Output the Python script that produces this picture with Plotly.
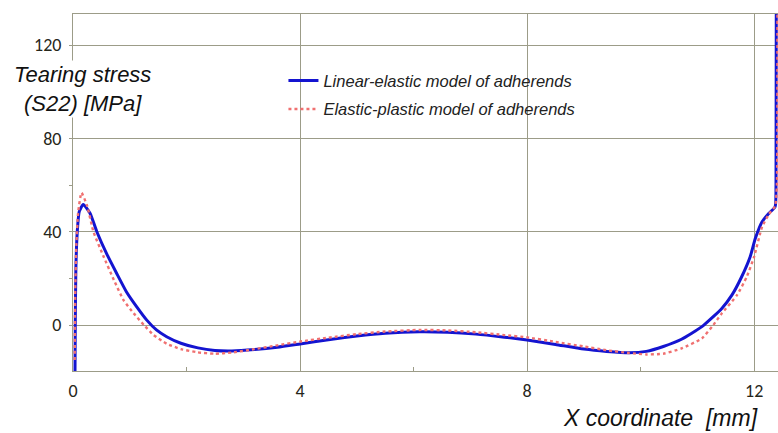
import plotly.graph_objects as go

# Linear-elastic model (blue)
x_lin = [0.035, 0.04, 0.05, 0.077, 0.11, 0.18, 0.30, 0.42, 0.59, 0.77, 0.94, 1.12, 1.30, 1.47, 1.65, 1.9, 2.2, 2.5, 2.8, 3.2, 3.6, 4.0, 4.5, 5.0, 5.5, 6.1, 6.6, 7.1, 7.6, 8.0, 8.5, 9.0, 9.4, 9.8, 10.1, 10.4, 10.72, 11.08, 11.43, 11.61, 11.78, 11.93, 12.02, 12.14, 12.26, 12.37, 12.385, 12.39]
y_lin = [-22, 0, 23.6, 40.7, 48.6, 51.7, 47.9, 40, 30.7, 22.1, 14.3, 7.9, 2.1, -2.1, -5.0, -7.8, -9.8, -10.9, -11.1, -10.5, -9.5, -8.1, -6.3, -4.7, -3.5, -2.9, -3.1, -3.9, -5.2, -6.4, -8.3, -10.3, -11.3, -11.9, -11.3, -9.2, -6.1, -0.7, 7.1, 12.9, 20.7, 29.3, 37.1, 44.3, 47.9, 50.7, 60, 140]

# Elastic-plastic model (red dotted)
x_pl = [0.03, 0.04, 0.06, 0.09, 0.15, 0.25, 0.36, 0.54, 0.72, 0.89, 1.07, 1.25, 1.42, 1.65, 1.9, 2.2, 2.5, 2.8, 3.2, 3.6, 4.0, 4.5, 5.0, 5.5, 6.1, 6.6, 7.1, 7.6, 8.0, 8.5, 9.0, 9.4, 9.8, 10.1, 10.4, 10.72, 11.08, 11.28, 11.43, 11.7, 11.87, 12.0, 12.14, 12.26, 12.37, 12.40, 12.41]
y_pl = [-15, 15, 35, 48, 56.7, 51, 40, 29.3, 19.3, 10.7, 5.0, 0, -4.3, -8.0, -10.3, -11.7, -12.3, -11.8, -10.3, -8.7, -7.1, -5.4, -3.9, -2.8, -2.1, -2.3, -3.1, -4.3, -5.3, -7.2, -9.2, -10.8, -12.0, -12.6, -12.3, -10.0, -5.7, 0, 5.0, 12.9, 20.7, 29.3, 42.1, 47.5, 51, 60, 140]

x_ticks = [0, 4, 8, 12]
y_ticks = [0, 40, 80, 120]

fig = go.Figure()
fig.add_trace(go.Scatter(
    x=x_lin, y=y_lin, mode="lines", name="<i>Linear-elastic model of adherends</i>",
    line=dict(color="#1414d0", width=3, shape="spline", smoothing=0.5),
    legendgroup="a",
))
fig.add_trace(go.Scatter(
    x=x_pl, y=y_pl, mode="lines", name="<i>Elastic-plastic model of adherends</i>",
    line=dict(color="#f07070", width=2.4, dash="dot", shape="spline", smoothing=0.5),
    legendgroup="b",
))

grid_col = "#9c9c88"
tick_font = dict(family="Carlito, Lato, sans-serif", size=18, color="#26261a")
fig.update_layout(
    width=778, height=433,
    margin=dict(l=73, r=0, t=14, b=62),
    paper_bgcolor="white", plot_bgcolor="white",
    showlegend=True,
    legend=dict(
        x=0.2985, y=0.862, xanchor="left", yanchor="top",
        font=dict(family="Liberation Sans, Arial, sans-serif", size=16.5, color="#222"),
        bgcolor="rgba(0,0,0,0)", traceorder="grouped", tracegroupgap=4,
    ),
    xaxis=dict(
        range=[0, 12.42], tickvals=x_ticks, ticktext=[str(v) for v in x_ticks],
        showgrid=True, gridcolor=grid_col, gridwidth=1,
        showline=True, linecolor=grid_col, linewidth=1, mirror=True,
        zeroline=False, ticks="", ticklabelstandoff=3,
        tickfont=tick_font,
        minor=dict(tickvals=[2, 6, 10], ticks="inside", ticklen=4, tickcolor=grid_col, showgrid=False),
    ),
    yaxis=dict(
        range=[-19.7, 133.3], tickvals=y_ticks, ticktext=[str(v) for v in y_ticks],
        showgrid=True, gridcolor=grid_col, gridwidth=1,
        showline=True, linecolor=grid_col, linewidth=1, mirror=True,
        zeroline=False, ticks="outside", ticklen=3, tickcolor=grid_col,
        ticklabelstandoff=4,
        tickfont=tick_font,
        minor=dict(tickvals=[20, 60, 100], ticks="outside", ticklen=3, tickcolor=grid_col, showgrid=False),
    ),
)

fig.add_annotation(
    text="<i>Tearing stress</i><br><i>(S22) [MPa]</i>",
    xref="paper", yref="paper", x=0.0135, y=0.79, xanchor="center", yanchor="middle",
    showarrow=False, align="center", bgcolor="white",
    font=dict(family="Liberation Sans, Arial, sans-serif", size=22, color="#111"),
)
fig.add_annotation(
    text="<i>X coordinate &nbsp;[mm]</i>",
    xref="paper", yref="paper", x=0.974, y=-0.132, xanchor="right", yanchor="middle",
    showarrow=False, font=dict(family="Liberation Sans, Arial, sans-serif", size=23, color="#111"),
)

fig.write_html("out.html", config={"displayModeBar": False},
               post_script="document.body.style.margin='0';")
